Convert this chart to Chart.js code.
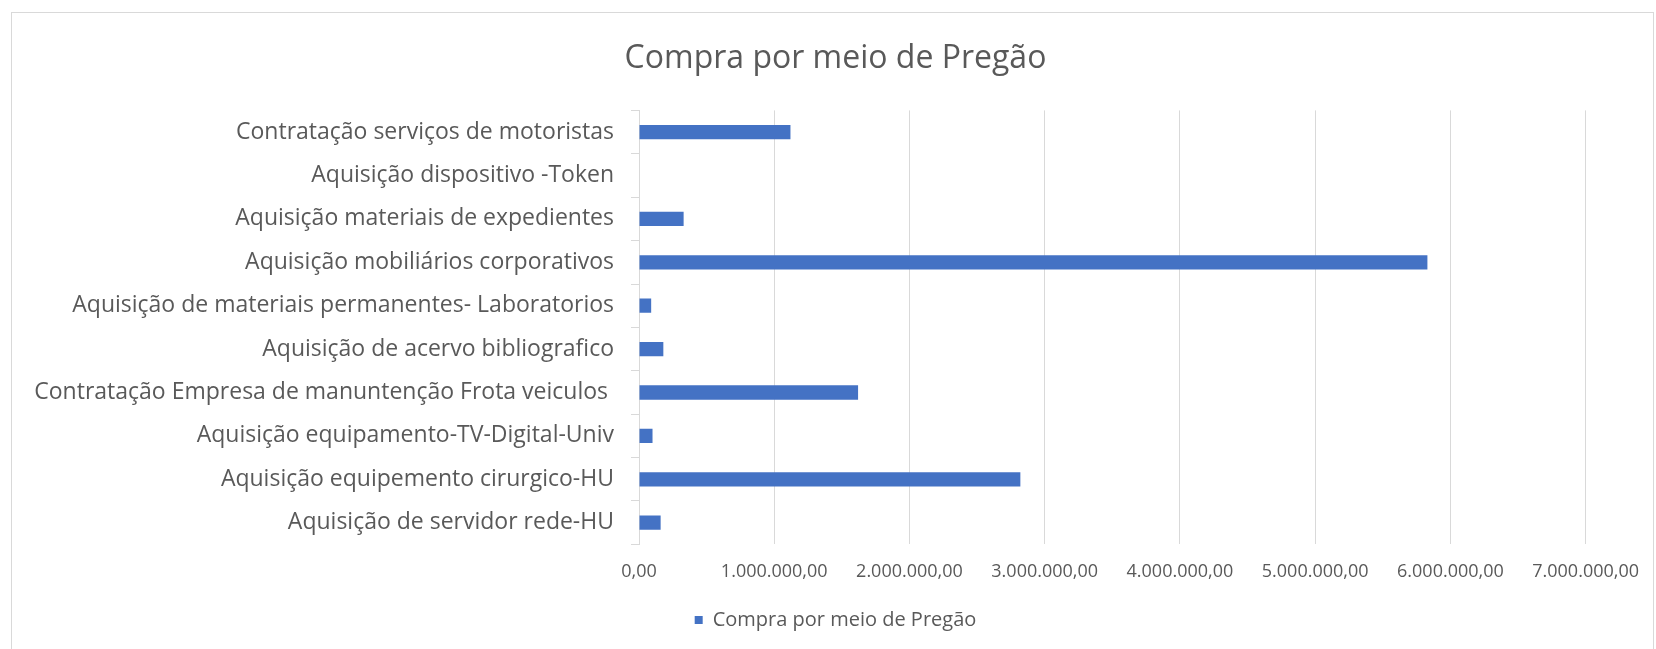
<!DOCTYPE html>
<html>
<head>
<meta charset="utf-8">
<script src="https://cdn.jsdelivr.net/npm/chart.js@4.4.1/dist/chart.umd.min.js"></script>
<style>
  html, body { margin: 0; padding: 0; background: #fff; }
  #wrap { position: relative; width: 1656px; height: 649px; }
  #frame { position: absolute; left: 11px; top: 12px; width: 1641px; height: 660px; border: 1px solid #d9d9d9; }
  canvas { position: absolute; left: 0; top: 0; }
</style>
</head>
<body>
<div id="wrap">
  <div id="frame"></div>
  <canvas id="bar-chart" width="1656" height="649"></canvas>
</div>
<script>
// categories, top to bottom as in the picture
var label_string = [
    'Contratação serviços de motoristas',
    'Aquisição dispositivo -Token',
    'Aquisição materiais de expedientes',
    'Aquisição mobiliários corporativos',
    'Aquisição de materiais permanentes- Laboratorios',
    'Aquisição de acervo bibliografico',
    'Contratação Empresa de manuntenção Frota veiculos ',
    'Aquisição equipamento-TV-Digital-Univ',
    'Aquisição equipemento cirurgico-HU',
    'Aquisição de servidor rede-HU'
];
var label_data = [1120000, 0, 330000, 5830000, 90000, 180000, 1620000, 100000, 2820000, 160000];
var series_name = 'Compra por meio de Pregão';
var x_max = 7000000;
var x_step = 1000000;

var textColor = '#595959';
var gridColor = '#d9d9d9';
var barColor = '#4472C4';

// 1000000 -> "1.000.000,00"
function formatBR(v) {
    var s = Math.round(v).toString().replace(/\B(?=(\d{3})+(?!\d))/g, '.');
    return s + ',00';
}

Chart.defaults.font.family = "'Open Sans', 'DejaVu Sans', sans-serif";
Chart.defaults.color = textColor;

var barChart = new Chart(document.getElementById('bar-chart'), {
    type: 'bar',
    data: {
        labels: label_string,
        datasets: [
            {
                label: series_name,
                data: label_data,
                backgroundColor: barColor,
                borderWidth: 0,
                categoryPercentage: 0.6,
                barPercentage: 0.55
            }
        ]
    },
    options: {
        indexAxis: 'y',
        responsive: false,
        animation: false,
        layout: {
            padding: { left: 20, right: 5, top: 0, bottom: 9 }
        },
        plugins: {
            title: {
                display: true,
                text: series_name,
                color: textColor,
                font: { size: 32, weight: 'normal' },
                padding: { top: 40, bottom: 32 }
            },
            legend: {
                display: true,
                position: 'bottom',
                labels: {
                    color: textColor,
                    boxWidth: 8,
                    boxHeight: 8,
                    padding: 10,
                    font: { size: 20 }
                }
            },
            tooltip: { enabled: false }
        },
        scales: {
            x: {
                min: 0,
                max: x_max,
                grid: {
                    color: gridColor,
                    drawTicks: false
                },
                border: { display: false },
                ticks: {
                    stepSize: x_step,
                    padding: 17,
                    color: textColor,
                    font: { size: 18 },
                    maxRotation: 0,
                    callback: function (v) { return formatBR(v); }
                }
            },
            y: {
                grid: {
                    color: gridColor,
                    drawOnChartArea: false,
                    drawTicks: true,
                    tickLength: 8
                },
                border: { display: true, color: gridColor },
                ticks: {
                    color: textColor,
                    padding: 17,
                    font: { size: 23 }
                },
                afterFit: function (scale) { scale.width = 619; }
            }
        }
    }
});
</script>
</body>
</html>
